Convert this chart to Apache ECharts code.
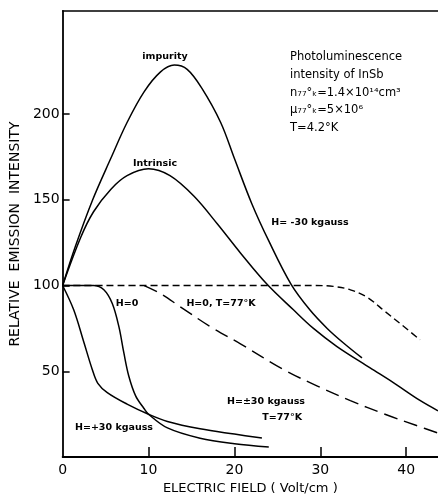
<!DOCTYPE html>
<html><head><meta charset="utf-8">
<script src="https://cdn.jsdelivr.net/npm/echarts@6/dist/echarts.min.js"></script>
<style>html,body{margin:0;padding:0;background:#fff}#c{width:438px;height:500px}</style>
</head><body><div id="c"></div>
<script>
// Data (x = electric field V/cm, y = relative emission intensity)
const impurity = [[0,100],[1.5,123],[3.5,150],[5.6,174],[7.5,195],[9.5,213],[11.4,224.5],[13,228.5],[14.5,226],[16.2,215],[18.4,195],[20,174],[22,148],[24,126],[26.6,100.7],[28.8,85.7],[30.8,75],[32.7,66.5],[34.85,57.8]];
const intrinsic = [[0,100],[2.1,128],[3.6,143],[5.6,156],[7.5,164],[10,168],[12.5,164],[15.3,152],[18,136],[20.7,119],[23.8,100.7],[26.9,85.7],[29.2,75],[31.9,64.6],[35.8,52],[38.5,43.4],[41.6,33],[43.7,27]];
const h0 = [[0,100],[3.6,100],[4.8,97.5],[5.78,89.5],[6.55,76],[7.13,60.7],[7.7,47.3],[8.5,35.7],[9.45,28.5],[10,25],[12.2,17],[16,11],[20,7.8],[24,5.9]];
const hPlus30 = [[0,100],[1.3,85.7],[2.5,66.5],[3.45,51.1],[4.1,43],[5.2,37.6],[7.5,30.9],[10,25],[12.2,20.8],[16,16.5],[20,13.4],[23.2,11.1]];
const h0T77 = [[0,100],[29,100],[31.5,99.5],[33.5,97.5],[35.5,93],[37.5,85],[39.5,77],[41.6,68.4]];
const h30T77 = [[9.5,100],[11.4,95.3],[13.7,87.6],[17.2,76],[20.7,66],[25.7,51.1],[29.6,41.5],[33.5,32.9],[37.4,25.2],[41.2,18.4],[43.7,14]];
const xTicks = [0,10,20,30,40];
const yTicks = [50,100,150,200];

const chart = echarts.init(document.getElementById('c'));
const F = 'DejaVu Sans';
function solid(data){return {type:'line',data:data,smooth:0.35,showSymbol:false,symbol:'none',lineStyle:{color:'#000',width:1.5},z:3};}
function dashed(data,dash){return {type:'line',data:data,smooth:0.35,showSymbol:false,symbol:'none',lineStyle:{color:'#000',width:1.4,type:dash},z:2};}
function txt(t,x,y,size,align,weight){return {type:'text',x:x,y:y,style:{text:t,font:(weight||'normal')+' '+size+'px "'+F+'"',fill:'#000',align:align||'center',verticalAlign:'middle'}};}
chart.setOption({
  animation:false,
  backgroundColor:'#fff',
  grid:{left:62,right:0,top:11,bottom:38},
  xAxis:[{type:'value',min:0,max:43.7,interval:10,
    name:'ELECTRIC FIELD ( Volt/cm )',nameLocation:'middle',nameGap:22,
    nameTextStyle:{fontFamily:F,fontSize:13,color:'#000'},
    axisLine:{lineStyle:{color:'#000',width:1.8}},
    axisTick:{inside:true,length:10,customValues:[10,20,30,40],lineStyle:{color:'#000',width:1.5}},
    axisLabel:{customValues:xTicks,fontFamily:F,fontSize:14,color:'#000',margin:6},
    splitLine:{show:false}},
   {type:'value',position:'top',min:0,max:43.7,
    axisLine:{show:true,lineStyle:{color:'#000',width:1.5}},
    axisTick:{show:false},axisLabel:{show:false},splitLine:{show:false}}],
  yAxis:{type:'value',min:0,max:260,interval:50,
    name:'RELATIVE  EMISSION  INTENSITY',nameLocation:'middle',nameGap:26,
    nameTextStyle:{fontFamily:F,fontSize:14,color:'#000'},
    axisLine:{show:true,lineStyle:{color:'#000',width:1.8}},
    axisTick:{show:true,inside:true,length:7,customValues:yTicks,lineStyle:{color:'#000',width:1.5}},
    axisLabel:{customValues:yTicks,fontFamily:F,fontSize:14,color:'#000',margin:3},
    splitLine:{show:false}},
  series:[solid(impurity),solid(intrinsic),solid(h0),solid(hPlus30),dashed(h0T77,[7,4]),dashed(h30T77,[14,7])],
  graphic:[
    txt('impurity',165,57,9.5,'center','bold'),
    txt('Intrinsic',155,164,9.5,'center','bold'),
    txt('H= -30 kgauss',310,223,9.5,'center','bold'),
    txt('H=0',127,304,9.5,'center','bold'),
    txt('H=0, T=77°K',221,304,9.5,'center','bold'),
    txt('H=±30 kgauss',305,402,9.5,'right','bold'),
    txt('T=77°K',302,418,9.5,'right','bold'),
    txt('H=+30 kgauss',75,428,9.5,'left','bold'),
    txt('Photoluminescence',290,57,11.5,'left'),
    txt('intensity of InSb',290,75,11.5,'left'),
    txt('n₇₇°ₖ=1.4×10¹⁴cm³',290,93,11.5,'left'),
    txt('μ₇₇°ₖ=5×10⁶',290,110,11.5,'left'),
    txt('T=4.2°K',290,128,11.5,'left')
  ]
});
</script></body></html>
